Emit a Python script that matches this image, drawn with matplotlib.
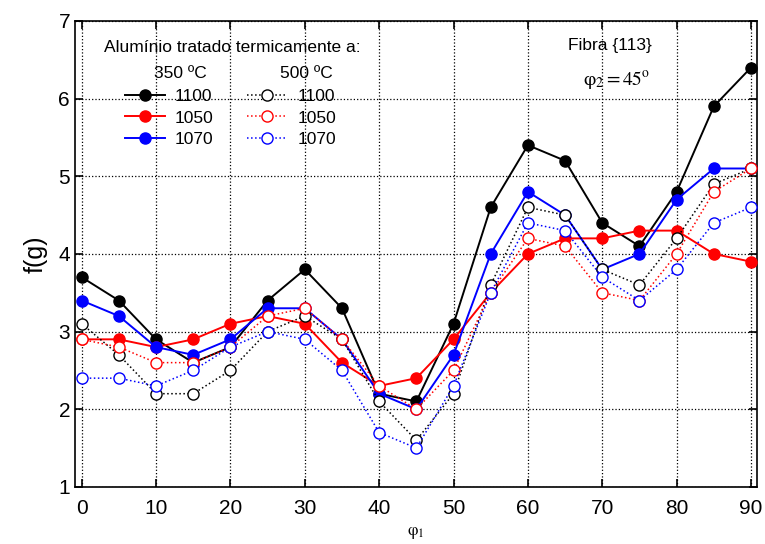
import numpy as np
import matplotlib
matplotlib.use('Agg')
import matplotlib.pyplot as plt

plt.rcParams['font.family'] = ['Liberation Sans', 'DejaVu Sans']
plt.rcParams['mathtext.fontset'] = 'stix'

PHI1 = [0, 5, 10, 15, 20, 25, 30, 35, 40, 45, 50, 55, 60, 65, 70, 75, 80, 85, 90]

# 350 ºC (filled)
T350_1100 = [3.7, 3.4, 2.9, 2.6, 2.8, 3.4, 3.8, 3.3, 2.2, 2.1, 3.1, 4.6, 5.4, 5.2, 4.4, 4.1, 4.8, 5.9, 6.4]
T350_1050 = [2.9, 2.9, 2.8, 2.9, 3.1, 3.2, 3.1, 2.6, 2.3, 2.4, 2.9, 3.5, 4.0, 4.2, 4.2, 4.3, 4.3, 4.0, 3.9]
T350_1070 = [3.4, 3.2, 2.8, 2.7, 2.9, 3.3, 3.3, 2.9, 2.2, 2.0, 2.7, 4.0, 4.8, 4.5, 3.8, 4.0, 4.7, 5.1, 5.1]

# 500 ºC (open)
T500_1100 = [3.1, 2.7, 2.2, 2.2, 2.5, 3.0, 3.2, 2.9, 2.1, 1.6, 2.2, 3.6, 4.6, 4.5, 3.8, 3.6, 4.2, 4.9, 5.1]
T500_1050 = [2.9, 2.8, 2.6, 2.6, 2.8, 3.2, 3.3, 2.9, 2.3, 2.0, 2.5, 3.5, 4.2, 4.1, 3.5, 3.4, 4.0, 4.8, 5.1]
T500_1070 = [2.4, 2.4, 2.3, 2.5, 2.8, 3.0, 2.9, 2.5, 1.7, 1.5, 2.3, 3.5, 4.4, 4.3, 3.7, 3.4, 3.8, 4.4, 4.6]

LABELS = ['1100', '1050', '1070']
COLORS = ['black', 'red', 'blue']

fig = plt.figure(figsize=(7.65, 5.44), dpi=100)
ax = fig.add_axes([0.098, 0.105, 0.8915, 0.8565])

handles = []
for ys, lab, c in zip([T350_1100, T350_1050, T350_1070], LABELS, COLORS):
    h, = ax.plot(PHI1, ys, '-', color=c, lw=1.4, marker='o', ms=8,
                 mfc=c, mec=c, label=lab, zorder=3)
    handles.append(h)
for ys, lab, c in zip([T500_1100, T500_1050, T500_1070], LABELS, COLORS):
    h, = ax.plot(PHI1, ys, ':', color=c, lw=1.1, marker='o', ms=8,
                 mfc='white', mec=c, mew=1.0, label=lab, zorder=4)
    handles.append(h)

ax.set_xlim(-0.9, 90.8)
ax.set_ylim(1, 7)
ax.set_xticks(range(0, 91, 10))
ax.set_yticks(range(1, 8))
ax.tick_params(direction='in', top=True, right=True, length=6, width=1.2,
               labelsize=15)
ax.tick_params(axis='x', pad=9)
ax.grid(True, linestyle=':', color='black', lw=0.9)
for s in ax.spines.values():
    s.set_linewidth(1.2)

ax.set_ylabel('f(g)', fontsize=18, labelpad=8)
ax.set_xlabel(r'$\mathrm{\varphi}_1$', fontsize=12, labelpad=5)

ax.text(0.23, 0.942, 'Alumínio tratado termicamente a:', transform=ax.transAxes,
        ha='center', va='center', fontsize=12.5)
ax.text(0.154, 0.888, '350 ºC', transform=ax.transAxes,
        ha='center', va='center', fontsize=12.5)
ax.text(0.339, 0.888, '500 ºC', transform=ax.transAxes,
        ha='center', va='center', fontsize=12.5)
ax.text(0.784, 0.948, 'Fibra {113}', transform=ax.transAxes,
        ha='center', va='center', fontsize=12.5)
ax.text(0.795, 0.872, r'$\mathrm{\varphi}_2 = 45^{\mathrm{o}}$', transform=ax.transAxes,
        ha='center', va='center', fontsize=14)

leg = ax.legend(handles=handles, ncol=2, loc='upper left',
                bbox_to_anchor=(0.073, 0.854), frameon=False, fontsize=12.5,
                handlelength=2.3, handletextpad=0.6, columnspacing=1.9,
                labelspacing=0.36, borderpad=0, borderaxespad=0)
leg.set_zorder(5)

fig.savefig('out.png', dpi=100)
